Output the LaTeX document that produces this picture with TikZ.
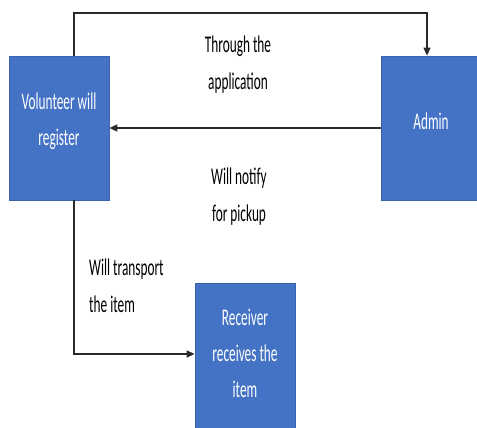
\documentclass[tikz,border=0pt]{standalone}
\usepackage{fontspec}
\setmainfont{Carlito}
\usepackage{graphicx}
\usetikzlibrary{arrows.meta}
\newcommand\tx[1]{\scalebox{1}[1.8]{#1}}
\definecolor{boxblue}{HTML}{4472C4}
\definecolor{boxedge}{HTML}{3A64AE}
\definecolor{linegray}{HTML}{2A2A2A}
\tikzset{
  bluebox/.style={draw=boxedge, fill=boxblue, line width=0.8pt, inner sep=0pt},
  boxtext/.style={text=white, align=center, font=\fontsize{13.3}{36}\selectfont, inner sep=0pt},
  lbl/.style={text=black, font=\fontsize{13.3}{37}\selectfont, inner sep=0pt},
  conn/.style={draw=linegray, line width=1.3pt},
  arr/.style={conn, -{Triangle[length=8pt,width=7pt]}}
}
\begin{document}
\begin{tikzpicture}[x=1pt,y=-1pt]
\useasboundingbox (0,0) rectangle (477,428);
\fill[white] (0,0) rectangle (477,428);
% boxes
\node[bluebox, minimum width=100pt, minimum height=144pt] (vol) at (59,128) {};
\node[bluebox, minimum width=96pt, minimum height=144pt] (admin) at (429,128) {};
\node[bluebox, minimum width=100pt, minimum height=145pt] (recv) at (245,355.5) {};
% box texts
\node[boxtext] (volt) at (59,121) {\tx{Volunteer will}\\\tx{register}};
\node[boxtext] (admint) at (431,121) {\tx{Admin}};
\node[boxtext] (recvt) at (245,353) {\tx{Receiver}\\\tx{receives the}\\\tx{item}};
% routing points
\coordinate (t1) at (74,13);
\coordinate (t2) at (427,13);
\coordinate (b1) at (74,354);
% connectors
\draw[arr] (vol.north -| t1) -- (t1) -- (t2) -- (admin.north -| t2);
\draw[arr] (admin.west) -- (vol.east);
\draw[arr] (vol.south -| t1) -- (b1) -- (recv.west |- b1);
% labels
\node[lbl, align=center] (l1) at (238,65) {\tx{Through the}\\\tx{application}};
\node[lbl, align=center] (l2) at (239,197) {\tx{Will notify}\\\tx{for pickup}};
\node[lbl, align=left, anchor=west] (l3) at (89,286) {\tx{Will transport}\\\tx{the item}};
\end{tikzpicture}
\end{document}
